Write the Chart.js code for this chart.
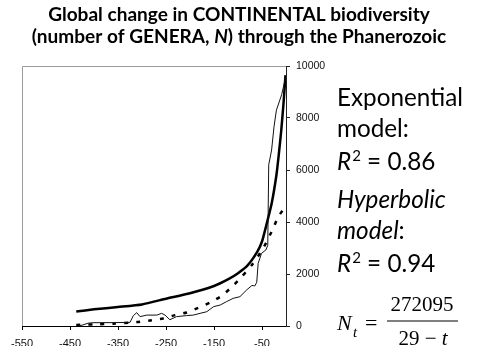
<!DOCTYPE html>
<html>
<head>
<meta charset="utf-8">
<script src="https://cdn.jsdelivr.net/npm/chart.js@4.4.0/dist/chart.umd.min.js"></script>
<style>
html,body{margin:0;padding:0;background:#fff;}
#wrap{position:absolute;left:0;top:0;width:480px;height:360px;}
</style>
</head>
<body>
<div id="wrap"><canvas id="c" width="480" height="360"></canvas></div>
<script>
// ---- data ----
const xTickValues = [-550, -450, -350, -250, -150, -50];
const yTickValues = [0, 2000, 4000, 6000, 8000, 10000];

// observed number of genera (thin line)
const obsT = [-437, -425, -412, -400, -360, -325, -318, -311, -304, -290, -269, -259, -252, -242, -228, -207, -193, -179, -165, -151, -137, -124, -110, -96, -82, -71, -65, -61, -58, -51, -42, -38, -36, -30, -25, -20, -9, -1];
const obsN = [0, 30, 110, 128, 130, 140, 400, 513, 360, 420, 420, 487, 420, 240, 360, 400, 420, 487, 550, 743, 808, 936, 1064, 1128, 1385, 1560, 1540, 1680, 2410, 2795, 2923, 3100, 6200, 6770, 7660, 8300, 8900, 9550];

// hyperbolic model (thick solid line)
const hypT = [-437, -400, -350, -300, -250, -200, -150, -120, -100, -80, -60, -50, -40, -30, -20, -15, -10, -5, -1];
const hypN = [560, 640, 730, 830, 1050, 1260, 1540, 1800, 2030, 2330, 2850, 3250, 3950, 4700, 5800, 6600, 7500, 8600, 9650];

// exponential model (dashed line)
const expT = [-437, -400, -360, -311, -283, -256, -235, -207, -183, -158, -134, -113, -92, -71, -54, -42, -30, -16, -4, -1];
const expN = [40, 60, 90, 150, 210, 290, 400, 520, 700, 900, 1160, 1500, 1900, 2350, 2800, 3180, 3630, 4200, 4530, 4600];

const titleLine1 = "Global change in CONTINENTAL biodiversity";
const titleLine2 = ["(number of GENERA, ", "N", ") through the Phanerozoic"];

function pts(xs, ys){ return xs.map((x,i)=>({x:x, y:ys[i]})); }

const textPlugin = {
  id: 'texts',
  beforeDatasetsDraw(chart){
    const ctx = chart.ctx, a = chart.chartArea;
    ctx.save();
    ctx.strokeStyle = '#9a9a9a';
    ctx.lineWidth = 1;
    ctx.beginPath();
    ctx.moveTo(a.left + 0.5, a.bottom);
    ctx.lineTo(a.left + 0.5, a.top + 0.5);
    ctx.lineTo(a.right, a.top + 0.5);
    ctx.stroke();
    ctx.restore();
  },
  afterDraw(chart){
    const ctx = chart.ctx;
    ctx.save();
    ctx.fillStyle = '#000';
    ctx.textBaseline = 'alphabetic';
    // ---- title ----
    ctx.font = 'bold 100px Lato';
    const w1 = ctx.measureText(titleLine1).width;
    const ts = 100 * 382 / w1;
    ctx.font = `bold ${ts}px Lato`;
    ctx.textAlign = 'left';
    const cx = 239;
    const lw1 = ctx.measureText(titleLine1).width;
    ctx.fillText(titleLine1, cx - lw1/2, 21);
    const partFonts = [`bold ${ts}px Lato`, `italic bold ${ts}px Lato`, `bold ${ts}px Lato`];
    let widths = titleLine2.map((s,i)=>{ctx.font = partFonts[i]; return ctx.measureText(s).width;});
    let tot = widths.reduce((p,q)=>p+q,0);
    let x = cx - tot/2;
    titleLine2.forEach((s,i)=>{ctx.font = partFonts[i]; ctx.fillText(s, x, 43); x += widths[i];});

    // ---- right-hand text ----
    ctx.font = '100px Lato';
    const we = ctx.measureText('Exponential').width;
    const fs = 100 * 126 / we;
    const X0 = 337;
    ctx.font = `${fs}px Lato`;
    ctx.fillText('Exponential', X0, 106);
    ctx.fillText('model:', X0, 137);
    function r2(val, y){
      let xx = X0;
      ctx.font = `italic ${fs}px Lato`;
      ctx.fillText('R', xx, y); xx += ctx.measureText('R').width + 1;
      ctx.font = `${fs*0.62}px Lato`;
      ctx.fillText('2', xx, y - fs*0.36); xx += ctx.measureText('2').width;
      ctx.font = `${fs}px Lato`;
      ctx.fillText(' = ' + val, xx, y);
    }
    r2('0.86', 170);
    ctx.font = `italic ${fs}px Lato`;
    ctx.fillText('Hyperbolic', X0, 208);
    ctx.fillText('model', X0, 239);
    let mw = ctx.measureText('model').width;
    ctx.font = `${fs}px Lato`;
    ctx.fillText(':', X0 + mw, 239);
    r2('0.94', 272);

    // ---- formula ----
    const ff = 'Liberation Serif';
    ctx.font = `italic 22px "${ff}"`;
    ctx.fillText('N', 337, 330);
    ctx.font = `italic 15px "${ff}"`;
    ctx.fillText('t', 353, 337);
    ctx.font = `22px "${ff}"`;
    ctx.fillText('=', 365, 330);
    ctx.fillRect(387, 320.5, 71, 1);
    ctx.font = `21px "${ff}"`;
    ctx.textAlign = 'center';
    ctx.fillText('272095', 422, 311);
    ctx.textAlign = 'left';
    const dA = '29 \u2212 ';
    ctx.font = `21px "${ff}"`;
    const wa = ctx.measureText(dA).width;
    ctx.font = `italic 21px "${ff}"`;
    const wb = ctx.measureText('t').width;
    let dx = 423 - (wa + wb)/2;
    ctx.font = `21px "${ff}"`;
    ctx.fillText(dA, dx, 345);
    ctx.font = `italic 21px "${ff}"`;
    ctx.fillText('t', dx + wa, 345);
    ctx.restore();
  }
};

new Chart(document.getElementById('c'), {
  type: 'line',
  data: {
    datasets: [
      {label:'Observed', data: pts(obsT, obsN), borderColor:'#111', borderWidth:1, pointRadius:0, tension:0, fill:false},
      {label:'Exponential', data: pts(expT, expN), borderColor:'#000', borderWidth:2.5, borderDash:[4,8], borderCapStyle:'butt', pointRadius:0, tension:0.2, fill:false},
      {label:'Hyperbolic', data: pts(hypT, hypN), borderColor:'#000', borderWidth:2.5, pointRadius:0, tension:0.2, fill:false}
    ]
  },
  options: {
    responsive:false,
    devicePixelRatio:1,
    animation:false,
    layout:{padding:{left:22, top:66, right:150, bottom:14}},
    plugins:{legend:{display:false}, tooltip:{enabled:false}, title:{display:false}},
    scales:{
      x:{
        type:'linear', min:-550, max:0,
        afterBuildTicks: s => { s.ticks = xTickValues.map(v=>({value:v})); },
        afterFit: s => { s.height = 20; },
        grid:{drawOnChartArea:false, drawTicks:true, tickLength:4, color:'#000'},
        border:{display:true, color:'#000', width:1},
        ticks:{font:{family:'"Liberation Sans", Arial', size:11}, color:'#111', padding:7, maxRotation:0, autoSkip:false, callback: v => String(v)}
      },
      y:{
        type:'linear', position:'right', min:0, max:10000,
        afterBuildTicks: s => { s.ticks = yTickValues.map(v=>({value:v})); },
        afterFit: s => { s.width = 44; },
        grid:{drawOnChartArea:false, drawTicks:true, tickLength:4, color:'#222'},
        border:{display:true, color:'#222', width:1},
        ticks:{font:{family:'"Liberation Sans", Arial', size:10.5}, color:'#111', padding:6, autoSkip:false, callback: v => String(v)}
      }
    }
  },
  plugins:[textPlugin]
});
</script>
</body>
</html>
